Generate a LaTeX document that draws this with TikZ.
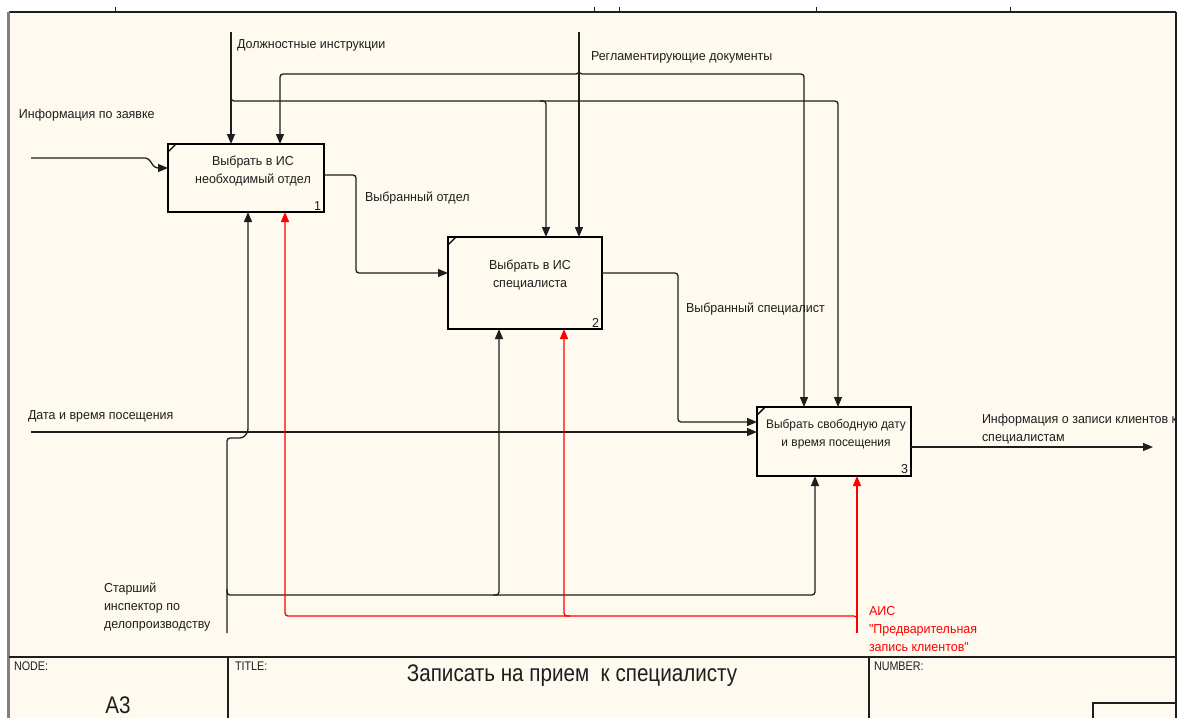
\documentclass[tikz,border=0pt]{standalone}
\usepackage{fontspec}
\setmainfont{Liberation Sans}
\newfontfamily\narrowfont[FakeStretch=0.86]{Liberation Sans}
\newfontfamily\diagfont[FakeStretch=0.96]{Liberation Sans}
\usetikzlibrary{arrows.meta}
\definecolor{paper}{RGB}{255,250,240}
\definecolor{ink}{RGB}{30,30,30}
\definecolor{aisred}{RGB}{255,0,0}

\begin{document}
\begin{tikzpicture}[x=1pt,y=-1pt,
  every node/.style={inner sep=0pt, outer sep=0pt},
  fn/.style={draw=black, line width=2.6pt, fill=paper},
  fntext/.style={font=\diagfont\fontsize{13}{18}\selectfont, text=ink, align=center},
  fnnum/.style={font=\diagfont\fontsize{13}{14}\selectfont, text=ink, anchor=south east},
  flow/.style={draw=ink, line width=1.3pt, rounded corners=3pt},
  tip/.style={-{Triangle[length=10pt,width=8pt]}},
  ctrl/.style={draw=aisred, line width=1.3pt, rounded corners=3pt},
  lbl/.style={font=\diagfont\fontsize{13}{18}\selectfont, text=ink, anchor=west, align=left},
  redlbl/.style={lbl, text=aisred},
  cell/.style={font=\narrowfont\fontsize{12.5}{14}\selectfont, text=ink, anchor=north west},
  rule/.style={draw=ink, line width=1.2pt}
]
% page and sheet frame
\useasboundingbox (0,0) rectangle (1184,718);
\fill[white] (0,0) rectangle (1184,718);
\fill[paper] (9,12) rectangle (1176,718);
\draw[rule] (9,12) -- (1176,12);
\draw[draw=gray, line width=2.2pt] (8.5,12) -- (8.5,718);
\draw[rule] (1176,12) -- (1176,718);
\foreach \tx in {115,594,619,816,1010}
  \draw[draw=ink, line width=0.8pt] (\tx,7) -- (\tx,12);

% title block
\draw[rule] (9,657) -- (1176,657);
\draw[rule] (228,657) -- (228,718);
\draw[rule] (869,657) -- (869,718);
\draw[rule] (1093,718) -- (1093,703) -- (1176,703);
\node[cell] (nodecap) at (14,662) {NODE:};
\node[cell] (titlecap) at (235,662) {TITLE:};
\node[cell] (numcap) at (874,662) {NUMBER:};
\node[font=\narrowfont\fontsize{24}{26}\selectfont, text=ink] (nodeid) at (118,705) {A3};
\node[font=\narrowfont\fontsize{24}{26}\selectfont, text=ink] (title) at (572,676) {Записать на прием \ к специалисту};

% activity boxes
\node[fn, minimum width=156pt, minimum height=68pt] (b1) at (246,178) {};
\node[fn, minimum width=154pt, minimum height=92pt] (b2) at (525,283) {};
\node[fn, minimum width=154pt, minimum height=69pt] (b3) at (834,441.5) {};
\foreach \b/\n in {b1/1,b2/2,b3/3}{
  \draw[draw=black, line width=1.4pt] ([yshift=-8pt]\b.north west) -- ([xshift=8pt]\b.north west);
  \node[fnnum] (\b num) at ([xshift=-3pt,yshift=2pt]\b.south east) {\n};
}
\node[fntext] (b1txt) at ([xshift=7pt,yshift=7pt]b1.center) {Выбрать в ИС\\необходимый отдел};
\node[fntext] (b2txt) at ([xshift=5pt,yshift=8pt]b2.center) {Выбрать в ИС\\специалиста};
\node[fntext, font=\diagfont\fontsize{12.4}{18}\selectfont] (b3txt) at ([xshift=2pt,yshift=7pt]b3.center) {Выбрать свободную дату\\и время посещения};

% control: job descriptions
\coordinate (dtop) at (231,32);
\coordinate (dj) at (231,101);
\coordinate (dj2) at (546,101);
\coordinate (dj3) at (838,101);
\draw[flow,tip] (dtop) -- (dtop |- b1.north);
\draw[flow,tip] ([yshift=6pt]dj) -- (dj) -- (dj3) -- (dj3 |- b3.north);
\draw[flow,tip] ([xshift=-6pt]dj2) -- (dj2) -- (dj2 |- b2.north);
\node[lbl] (dlbl) at (237,45) {Должностные инструкции};

% control: regulations
\coordinate (rtop) at (579,32);
\coordinate (rj) at (579,74);
\coordinate (rl) at (280,74);
\coordinate (rr) at (804,74);
\draw[flow,tip] (rtop) -- (rtop |- b2.north);
\draw[flow,tip] ([yshift=6pt]rj) -- (rj) -- (rl) -- (rl |- b1.north);
\draw[flow,tip] ([yshift=6pt]rj) -- (rj) -- (rr) -- (rr |- b3.north);
\node[lbl] (rlbl) at (591,57) {Регламентирующие документы};

% input: request information
\coordinate (iin) at (31,158);
\coordinate (ij1) at (148,158);
\coordinate (ij2) at (155,168);
\draw[flow,tip] (iin) -- (ij1) -- (ij2) -- (ij2 -| b1.west);
\node[lbl] (ilbl) at (19,115) {Информация по заявке};

% output 1 -> input 2
\coordinate (o1a) at (356,175);
\coordinate (o1b) at (356,273);
\draw[flow,tip] (o1a -| b1.east) -- (o1a) -- (o1b) -- (o1b -| b2.west);
\node[lbl] (o1lbl) at (365,198) {Выбранный отдел};

% output 2 -> input 3
\coordinate (o2a) at (678,273);
\coordinate (o2b) at (678,422);
\draw[flow,tip] (o2a -| b2.east) -- (o2a) -- (o2b) -- (o2b -| b3.west);
\node[lbl] (o2lbl) at (686,309) {Выбранный специалист};

% input: date and time
\coordinate (din) at (31,432);
\draw[flow,tip] (din) -- (din -| b3.west);
\node[lbl] (dtlbl) at (28,416) {Дата и время посещения};

% final output
\coordinate (out) at (1153,447);
\draw[flow,tip] (out -| b3.east) -- (out);
\node[lbl] (outlbl) at (982,429) {Информация о записи клиентов к\\специалистам};

% mechanism: senior inspector
\coordinate (mbot) at (227,633);
\coordinate (mj1) at (227,438);
\coordinate (mj2) at (243,438);
\coordinate (mj3) at (248,432);
\coordinate (mj) at (227,595);
\coordinate (mb2) at (499,595);
\coordinate (mb3) at (815,595);
\draw[flow,tip] (mbot) -- (mj1) -- (mj2) -- (mj3) -- (mj3 |- b1.south);
\draw[flow,tip] ([yshift=6pt]mj) -- (mj) -- (mb3) -- (mb3 |- b3.south);
\draw[flow,tip] ([xshift=-6pt]mb2) -- (mb2) -- (mb2 |- b2.south);
\node[lbl] (mlbl) at (104,607) {Старший\\инспектор по\\делопроизводству};

% mechanism: information system
\coordinate (abot) at (857,633);
\coordinate (aj) at (857,616);
\coordinate (ab1) at (285,616);
\coordinate (ab2) at (564,616);
\draw[ctrl,tip] (abot) -- (abot |- b3.south);
\draw[ctrl,tip] ([yshift=-6pt]aj) -- (aj) -- (ab1) -- (ab1 |- b1.south);
\draw[ctrl,tip] ([xshift=6pt]ab2) -- (ab2) -- (ab2 |- b2.south);
\node[redlbl] (albl) at (869,629) {АИС\\"Предварительная\\запись клиентов"};
\end{tikzpicture}
\end{document}
